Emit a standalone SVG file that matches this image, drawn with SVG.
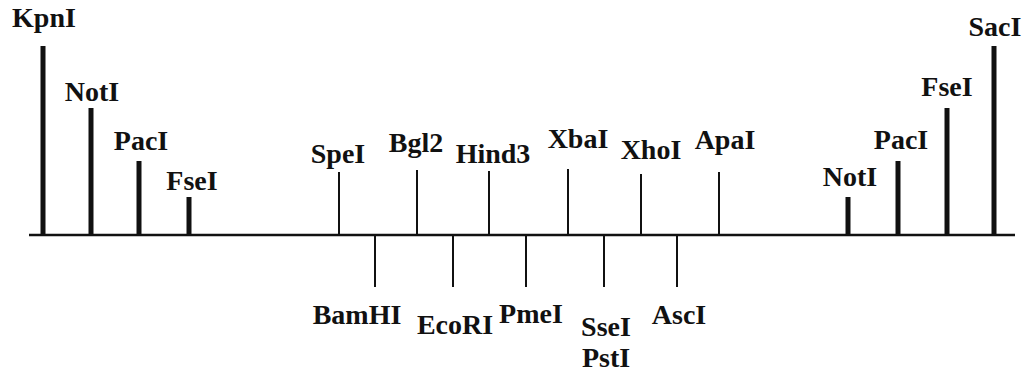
<svg xmlns="http://www.w3.org/2000/svg" width="1028" height="373" viewBox="0 0 1028 373">
<style>
text{font-family:"Liberation Serif","Times New Roman",serif;font-weight:bold;font-size:28px;fill:#111;text-anchor:middle}
.thick{stroke:#111;stroke-width:5}
.thin{stroke:#111;stroke-width:2}
.base{stroke:#111;stroke-width:2.5}
</style>
<rect width="1028" height="373" fill="#fff"/>
<g id="connectors">
<line class="base" x1="29" y1="235" x2="1015" y2="235"/>
<line id="c-kpn" class="thick" x1="43" y1="46" x2="43" y2="235"/>
<line id="c-notL" class="thick" x1="91" y1="108" x2="91" y2="235"/>
<line id="c-pacL" class="thick" x1="139" y1="161" x2="139" y2="235"/>
<line id="c-fseL" class="thick" x1="189" y1="197" x2="189" y2="235"/>
<line class="thin" x1="339" y1="172" x2="339" y2="235"/>
<line class="thin" x1="417" y1="170" x2="417" y2="235"/>
<line class="thin" x1="489" y1="171" x2="489" y2="235"/>
<line class="thin" x1="568" y1="169" x2="568" y2="235"/>
<line class="thin" x1="641" y1="174" x2="641" y2="235"/>
<line class="thin" x1="719" y1="172" x2="719" y2="235"/>
<line class="thin" x1="375" y1="235" x2="375" y2="287"/>
<line class="thin" x1="453" y1="235" x2="453" y2="287"/>
<line class="thin" x1="526" y1="235" x2="526" y2="287"/>
<line class="thin" x1="604" y1="235" x2="604" y2="287"/>
<line class="thin" x1="677" y1="235" x2="677" y2="287"/>
<line class="thick" x1="848" y1="197" x2="848" y2="235"/>
<line class="thick" x1="898" y1="161" x2="898" y2="235"/>
<line class="thick" x1="947" y1="108" x2="947" y2="235"/>
<line class="thick" x1="994" y1="46" x2="994" y2="235"/>
</g>
<g id="n-kpni"><text x="44" y="27">KpnI</text></g>
<g id="n-noti-l"><text x="92" y="101">NotI</text></g>
<g id="n-paci-l"><text x="141" y="150">PacI</text></g>
<g id="n-fsei-l"><text x="192" y="190">FseI</text></g>
<g id="n-spei"><text x="338" y="163">SpeI</text></g>
<g id="n-bgl2"><text x="416" y="152">Bgl2</text></g>
<g id="n-hind3"><text x="493" y="163">Hind3</text></g>
<g id="n-xbai"><text x="578" y="148">XbaI</text></g>
<g id="n-xhoi"><text x="651" y="159">XhoI</text></g>
<g id="n-apai"><text x="725" y="149">ApaI</text></g>
<g id="n-noti-r"><text x="850" y="186">NotI</text></g>
<g id="n-paci-r"><text x="901" y="149">PacI</text></g>
<g id="n-fsei-r"><text x="947" y="96">FseI</text></g>
<g id="n-saci"><text x="995" y="36">SacI</text></g>
<g id="n-bamhi"><text x="357" y="324">BamHI</text></g>
<g id="n-ecori"><text x="455" y="334">EcoRI</text></g>
<g id="n-pmei"><text x="531" y="323">PmeI</text></g>
<g id="n-ssei-psti"><text x="606" y="336">SseI</text><text x="606" y="367">PstI</text></g>
<g id="n-asci"><text x="679" y="324">AscI</text></g>
</svg>
